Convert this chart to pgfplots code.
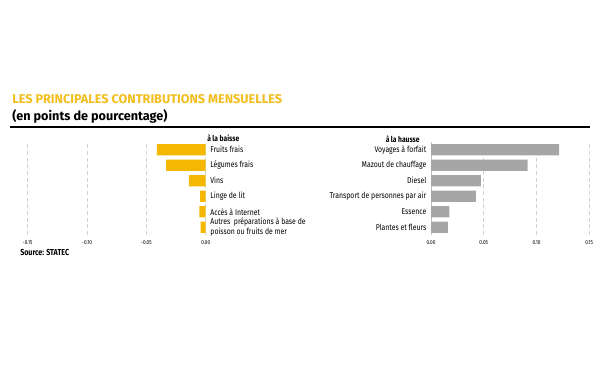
\documentclass[border=0pt]{standalone}
\usepackage{pgfplots}
\pgfplotsset{compat=1.18}
\usepackage{fontspec}
\setmainfont{Fira Sans}[FakeStretch=0.82]
\newfontfamily\titlefont{Fira Sans}
\definecolor{cyel}{HTML}{F5B800}
\definecolor{ctitle}{HTML}{F2BE1E}
\definecolor{cgray}{HTML}{A6A6A6}
\newcommand\PX[2]{({#1*0.75pt},{-#2*0.75pt})}
\begin{document}
\begin{tikzpicture}
\useasboundingbox[fill=white] \PX{0}{0} rectangle \PX{600}{367};
\node[anchor=west,inner sep=0,text=ctitle,font=\titlefont\fontsize{9.5}{11}\selectfont\bfseries] at \PX{12}{99} {LES PRINCIPALES CONTRIBUTIONS MENSUELLES};
\node[anchor=west,inner sep=0,font=\titlefont\fontsize{9.5}{11}\selectfont\bfseries] at \PX{12}{116} {(en points de pourcentage)};
\draw[line width=1.5pt] \PX{10}{127.5} -- \PX{590}{127.5};
\node[anchor=west,inner sep=0,font=\fontsize{6.1}{7}\selectfont\bfseries] at \PX{207}{138} {à la baisse};
\node[anchor=west,inner sep=0,font=\fontsize{6.1}{7}\selectfont\bfseries] at \PX{385.5}{139} {à la hausse};
\node[anchor=west,inner sep=0,font=\fontsize{6.5}{7}\selectfont\bfseries] at \PX{20}{252} {Source: STATEC};
\pgfplotsset{
  common/.style={
    scale only axis, height=69.75pt, ymin=-0.5, ymax=5.5,
    xbar, bar width=0.72, axis line style={draw=none}, major tick length=0pt,
    ytick={0,1,2,3,4,5}, xmajorgrids, grid style={densely dashed, gray!35, line width=0.4pt},
    xticklabel style={font=\fontsize{4.3}{5}\selectfont, yshift=-1pt},
    yticklabel style={font=\fontsize{6.3}{7.2}\selectfont},
    /pgf/number format/.cd, fixed, fixed zerofill, precision=2, assume math mode=true,
  }
}
\begin{axis}[common, at={(20.775pt,-176.25pt)}, anchor=south west, width=133.5pt,
  xmin=-0.15, xmax=0, xtick={-0.15,-0.10,-0.05,0},
  yticklabel pos=right, yticklabel style={anchor=west, align=left},
  yticklabels={{Autres \ préparations à base de\\poisson ou fruits de mer}, Accès à Internet, Linge de lit, Vins, Légumes frais, Fruits frais}]
\addplot[fill=cyel, draw=none] coordinates {(-0.0412,5) (-0.0334,4) (-0.0141,3) (-0.0048,2) (-0.0054,1) (-0.0042,0)};
\end{axis}
\begin{axis}[common, at={(323.25pt,-176.25pt)}, anchor=south west, width=118.7pt,
  xmin=0, xmax=0.15, xtick={0,0.05,0.10,0.15},
  yticklabel style={anchor=east, align=right},
  yticklabels={Plantes et fleurs, Essence, Transport de personnes par air, Diesel, Mazout de chauffage, Voyages à forfait}]
\draw[gray!50, line width=0.5pt] (axis cs:0,-0.5) -- (axis cs:0,5.5);
\addplot[fill=cgray, draw=none] coordinates {(0.1215,5) (0.0916,4) (0.0473,3) (0.0426,2) (0.0173,1) (0.0161,0)};
\end{axis}
\end{tikzpicture}
\end{document}
